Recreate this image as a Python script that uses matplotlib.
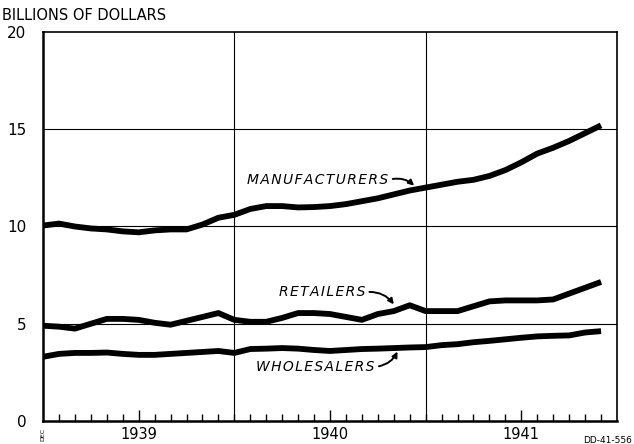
import numpy as np
import matplotlib.pyplot as plt

# Запасы товаров, млрд долларов, помесячно: дек. 1938 - нояб. 1941
months = np.arange(36)
manufacturers = [10.05, 10.15, 10.0, 9.9, 9.85, 9.75, 9.7, 9.8, 9.85, 9.85, 10.1, 10.45,
                 10.6, 10.9, 11.05, 11.05, 10.98, 11.0, 11.05, 11.15, 11.3, 11.45, 11.65, 11.85,
                 12.0, 12.15, 12.3, 12.4, 12.6, 12.9, 13.3, 13.75, 14.05, 14.4, 14.8, 15.2]
retailers = [4.9, 4.85, 4.75, 5.0, 5.25, 5.25, 5.2, 5.05, 4.95, 5.15, 5.35, 5.55,
             5.2, 5.1, 5.1, 5.3, 5.55, 5.55, 5.5, 5.35, 5.2, 5.5, 5.65, 5.95,
             5.65, 5.65, 5.65, 5.9, 6.15, 6.2, 6.2, 6.2, 6.25, 6.55, 6.85, 7.15]
wholesalers = [3.3, 3.45, 3.5, 3.5, 3.52, 3.45, 3.4, 3.4, 3.45, 3.5, 3.55, 3.6,
               3.5, 3.7, 3.72, 3.75, 3.72, 3.65, 3.6, 3.65, 3.7, 3.72, 3.75, 3.78,
               3.8, 3.9, 3.95, 4.05, 4.12, 4.2, 4.28, 4.35, 4.38, 4.4, 4.55, 4.62]
year_labels = ["1939", "1940", "1941"]
year_pos = [6, 18, 30]
y_ticks = [0, 5, 10, 15, 20]


def spaced(s):
    # разрядка букв, как в оригинале
    return "\u200a".join(s)


fig = plt.figure(figsize=(6.34, 4.44), dpi=100)
ax = fig.add_axes([43 / 634, 1 - 421 / 444, (617 - 43) / 634, (421 - 32) / 444])

# сетка
for y in [5, 10, 15]:
    ax.axhline(y, color='black', lw=0.8, zorder=1)
for x in [12, 24]:
    ax.axvline(x, color='black', lw=0.8, zorder=1)

for series in [manufacturers, retailers, wholesalers]:
    ax.plot(months, series, color='black', lw=4.2, solid_capstyle='butt',
            solid_joinstyle='round', zorder=3)

ax.set_xlim(0, 36)
ax.set_ylim(0, 20)

ax.set_yticks(y_ticks)
ax.set_yticklabels([str(v) for v in y_ticks], fontsize=11)
ax.tick_params(axis='y', length=0, pad=12)

ax.set_xticks(year_pos)
ax.set_xticklabels(year_labels, fontsize=10.5)
ax.set_xticks(range(1, 36), minor=True)
ax.tick_params(axis='x', which='major', direction='in', length=8, width=1, pad=4)
ax.tick_params(axis='x', which='minor', direction='in', length=5, width=1)

for side in ['left', 'bottom']:
    ax.spines[side].set_linewidth(1.8)
for side in ['top', 'right']:
    ax.spines[side].set_linewidth(1.2)

fig.text(2 / 634, 1 - 16 / 444, "BILLIONS OF DOLLARS", fontsize=10.5, va='center', ha='left')
fig.text(43 / 634, 1 - 434 / 444, "DEC", fontsize=4.5, rotation=90, ha='center', va='center')
fig.text(583 / 634, 1 - 440 / 444, "DD-41-556", fontsize=6.5, ha='left', va='center')

arrow = dict(arrowstyle='-|>', color='black', lw=1.4, mutation_scale=8,
             shrinkA=1, shrinkB=2, relpos=(1, 0.5))
ax.annotate(spaced("MANUFACTURERS"), xy=(23.4, 12.0), xytext=(17.25, 12.4),
            fontsize=10, style='italic', ha='center', va='center',
            arrowprops=dict(arrow, connectionstyle='arc3,rad=-0.3'))
ax.annotate(spaced("RETAILERS"), xy=(22.1, 5.88), xytext=(17.5, 6.63),
            fontsize=10, style='italic', ha='center', va='center',
            arrowprops=dict(arrow, connectionstyle='arc3,rad=-0.3'))
ax.annotate(spaced("WHOLESALERS"), xy=(22.3, 3.7), xytext=(17.1, 2.78),
            fontsize=10, style='italic', ha='center', va='center',
            arrowprops=dict(arrow, connectionstyle='arc3,rad=0.3'))

fig.savefig("out.png", dpi=100)
